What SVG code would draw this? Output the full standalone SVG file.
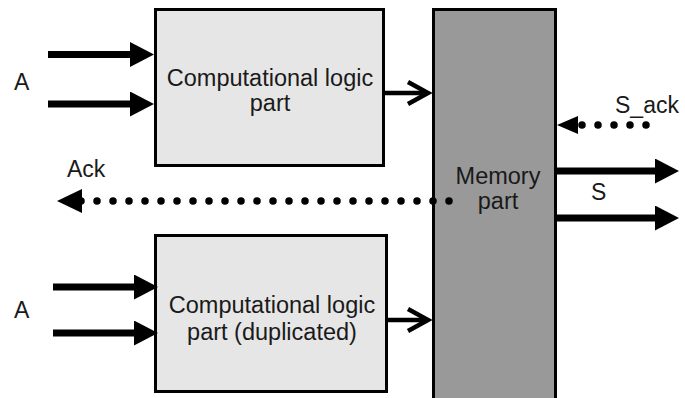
<svg xmlns="http://www.w3.org/2000/svg" width="685" height="398" viewBox="0 0 685 398">
<style>
.box{fill:#e6e6e6;stroke:#000;stroke-width:3}
.mem{fill:#999999;stroke:#000;stroke-width:3}
.t{font-family:"Liberation Sans",Arial,sans-serif;font-size:23.5px;fill:#1a1a1a;text-anchor:middle}
.lbl{font-family:"Liberation Sans",Arial,sans-serif;font-size:23px;fill:#1a1a1a}
.thick{stroke:#000;stroke-width:7;fill:none;marker-end:url(#head)}
.thin{stroke:#000;stroke-width:4.5;fill:none}
.dots{stroke:#000;stroke-width:7.5;stroke-linecap:round;stroke-dasharray:0 16;fill:none}
</style>
<defs>
<marker id="head" markerUnits="userSpaceOnUse" viewBox="0 0 24 25" refX="0" refY="12.5" markerWidth="24" markerHeight="25" orient="auto">
<path d="M0,0 L24,12.5 L0,25 Z" fill="#000"/>
</marker>
</defs>
<rect width="685" height="398" fill="#fff"/>
<g id="logic-top">
<rect class="box" x="155.5" y="9.5" width="228" height="156"/>
<text class="t" x="270" y="86">Computational logic</text>
<text class="t" x="270" y="110.5">part</text>
</g>
<g id="logic-bottom">
<rect class="box" x="155.5" y="235.5" width="231" height="156"/>
<text class="t" x="272" y="313">Computational logic</text>
<text class="t" x="272" y="340">part (duplicated)</text>
</g>
<g id="memory">
<rect class="mem" x="433.5" y="9.5" width="122" height="400"/>
<text class="t" x="498" y="184">Memory</text>
<text class="t" x="498" y="208.5">part</text>
</g>
<g id="connectors">
<path class="thick" d="M48,54.5 H130"/>
<path class="thick" d="M48,104 H130"/>
<path class="thick" d="M53,287 H134"/>
<path class="thick" d="M53,333 H134"/>
<path class="thick" d="M557,171 H655"/>
<path class="thick" d="M557,218 H655"/>
<path class="thin" d="M385,93 H427"/>
<path class="thin" d="M408,82 L428,93 L408,104"/>
<path class="thin" d="M388,320 H427"/>
<path class="thin" d="M408,309 L428,320 L408,331"/>
<path class="dots" d="M81,201 H455"/>
<path d="M57,201 L82,189 L82,213 Z" fill="#000"/>
<path class="dots" d="M582,125 H648"/>
<path d="M557,125 L578,116 L578,134 Z" fill="#000"/>
</g>
<g id="labels">
<text class="lbl" x="14" y="90">A</text>
<text class="lbl" x="14" y="318">A</text>
<text class="lbl" x="67" y="177">Ack</text>
<text class="lbl" x="591" y="200">S</text>
<text class="lbl" x="615" y="113">S_ack</text>
</g>
</svg>
